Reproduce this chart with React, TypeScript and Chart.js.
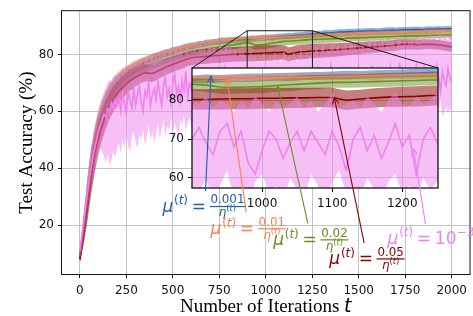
import React, { useEffect, useRef } from "react";
import { Chart, registerables } from "chart.js";

Chart.register(...registerables);

// ---------------- data ----------------
const iterations = [0,20,40,60,80,100,120,140,160,180,200,220,240,260,280,300,320,340,360,380,400,420,440,460,480,500,520,540,560,580,600,620,640,660,680,700,720,740,760,780,800,820,840,860,880,900,920,940,960,980,1000,1020,1040,1060,1080,1100,1120,1140,1160,1180,1200,1220,1240,1260,1280,1300,1320,1340,1360,1380,1400,1420,1440,1460,1480,1500,1520,1540,1560,1580,1600,1620,1640,1660,1680,1700,1720,1740,1760,1780,1800,1820,1840,1860,1880,1900,1920,1940,1960,1980,2000];

const accBlue = [10.0,19.0,30.0,40.5,48.5,54.5,59.0,62.8,65.8,68.0,69.8,71.3,72.6,73.7,74.6,75.5,76.3,77.0,77.6,78.3,78.9,79.3,79.9,80.4,80.7,81.2,81.6,81.9,82.3,82.6,83.0,83.2,83.5,83.6,84.0,84.1,84.4,84.5,84.7,84.8,85.0,85.0,85.2,85.2,85.3,85.3,85.5,85.5,85.7,85.8,85.9,86.0,86.0,86.2,86.3,86.4,86.5,86.5,86.7,86.8,86.9,87.0,87.1,87.2,87.3,87.3,87.5,87.5,87.6,87.7,87.8,87.8,87.9,88.0,88.0,88.1,88.1,88.2,88.2,88.3,88.2,88.3,88.4,88.4,88.5,88.4,88.5,88.6,88.6,88.6,88.7,88.7,88.6,88.8,88.8,88.8,88.9,88.9,88.9,89.0,88.9];
const hwBlue = [1.5,4.0,6.0,6.0,5.5,5.0,4.5,4.0,3.5,3.2,2.9,2.6,2.4,2.2,2.0,1.9,1.8,1.7,1.6,1.5,1.5,1.4,1.4,1.3,1.3,1.3,1.2,1.2,1.3,1.2,1.2,1.1,1.2,1.1,1.2,1.1,1.0,1.1,1.2,1.1,1.0,1.1,1.0,1.1,1.0,1.0,1.1,1.0,1.0,1.1,1.0,1.0,1.1,1.0,1.0,1.0,1.1,1.0,1.0,1.0,1.0,1.1,1.0,1.0,1.0,1.0,1.1,1.0,1.0,1.0,1.0,1.0,1.1,1.0,1.0,1.0,1.0,1.0,1.1,1.0,1.0,1.0,1.0,1.1,1.0,1.0,1.0,1.0,1.0,1.1,1.0,1.0,1.0,1.0,1.1,1.0,1.0,1.0,1.0,1.0,1.0];

const accOrange = [9.0,19.0,31.0,41.5,49.5,55.5,60.3,64.0,67.0,69.0,70.8,72.2,73.4,74.4,75.3,76.1,76.8,77.4,78.0,78.6,79.1,79.6,80.1,80.5,80.9,81.3,81.7,82.0,82.4,82.7,83.0,83.3,83.5,83.8,84.0,84.2,84.4,84.6,84.8,84.9,85.1,85.2,85.3,85.4,85.5,85.6,85.6,85.7,85.7,85.8,85.8,85.9,85.9,86.0,86.0,86.1,86.1,86.2,86.2,86.3,86.3,86.4,86.4,86.5,86.6,86.6,86.7,86.8,86.8,86.9,87.0,87.0,87.1,87.1,87.2,87.2,87.3,87.3,87.4,87.4,87.5,87.5,87.5,87.6,87.6,87.6,87.7,87.7,87.7,87.8,87.8,87.8,87.9,87.9,87.9,88.0,88.0,88.0,88.1,88.1,88.0];
const hwOrange = [1.5,4.0,5.5,5.5,5.0,4.5,4.0,3.6,3.2,2.9,2.6,2.4,2.2,2.0,1.9,1.8,1.7,1.6,1.5,1.4,1.3,1.3,1.2,1.2,1.1,1.1,1.1,1.0,1.0,1.0,0.9,0.9,0.8,0.9,0.8,0.8,0.9,0.8,0.8,0.8,0.8,0.9,0.8,0.8,0.8,0.8,0.9,0.8,0.8,0.8,0.8,0.8,0.9,0.8,0.8,0.8,0.8,0.8,0.9,0.8,0.8,0.8,0.8,0.9,0.8,0.8,0.8,0.8,0.8,0.9,0.8,0.8,0.8,0.8,0.9,0.8,0.8,0.8,0.8,0.8,0.8,0.9,0.8,0.8,0.8,0.8,0.8,0.9,0.8,0.8,0.8,0.8,0.8,0.9,0.8,0.8,0.8,0.8,0.8,0.9,0.8];

const accGreen = [8.0,18.0,29.0,39.5,47.5,53.5,58.0,61.8,64.6,66.8,68.5,69.9,71.1,72.1,73.0,73.8,74.5,75.2,75.8,76.4,76.9,77.4,77.9,78.3,78.7,79.1,79.5,79.9,80.2,80.5,80.8,81.1,81.4,81.6,81.9,82.1,82.3,82.5,82.7,82.9,83.1,83.3,83.5,83.7,83.9,84.1,83.9,83.4,83.3,83.4,83.5,83.8,84.0,84.2,84.4,84.6,84.6,84.7,84.8,84.9,85.0,85.1,85.2,85.2,85.3,85.3,85.4,85.4,85.5,85.5,85.6,85.6,85.7,85.7,85.8,85.8,85.9,85.9,86.0,86.0,86.1,86.1,86.2,86.2,86.3,86.3,86.4,86.4,86.4,86.5,86.5,86.5,86.6,86.6,86.6,86.7,86.7,86.7,86.8,86.8,86.7];
const hwGreen = [1.5,4.0,6.0,6.5,6.0,5.5,5.0,4.5,4.0,3.6,3.2,2.9,2.7,2.5,2.3,2.2,2.1,2.0,1.9,1.8,1.8,1.7,1.7,1.6,1.6,1.6,1.5,1.5,1.5,1.5,1.5,1.5,1.4,1.5,1.5,1.4,1.5,1.5,1.5,1.4,1.5,1.5,1.6,1.5,1.6,1.6,1.7,1.7,1.6,1.6,1.7,1.6,1.6,1.5,1.5,1.4,1.4,1.4,1.4,1.4,1.4,1.4,1.3,1.4,1.3,1.3,1.3,1.3,1.3,1.3,1.3,1.2,1.3,1.2,1.2,1.2,1.2,1.2,1.2,1.2,1.2,1.2,1.1,1.2,1.1,1.1,1.1,1.1,1.1,1.1,1.1,1.1,1.0,1.1,1.0,1.0,1.0,1.0,1.0,1.0,1.0];

const accRed = [8.0,17.0,27.0,37.0,45.0,51.0,55.5,59.0,62.0,64.3,66.2,67.8,69.0,70.3,71.2,72.0,72.7,73.3,73.6,73.3,73.5,74.2,74.8,75.5,76.0,76.5,77.0,77.5,77.9,78.4,78.8,79.0,79.1,79.2,79.3,79.4,79.5,79.6,79.7,79.8,79.9,80.0,80.0,80.1,80.1,80.2,80.2,80.3,80.4,80.4,80.5,80.5,80.6,80.6,80.7,80.7,80.0,80.3,80.6,80.8,80.9,81.0,81.2,81.2,81.3,81.3,81.4,81.5,81.5,81.6,81.7,81.8,81.9,82.0,82.1,82.2,82.3,82.4,82.5,82.6,82.7,82.8,82.9,83.0,83.1,83.3,83.4,83.5,83.5,83.5,83.5,83.4,83.5,83.6,83.5,83.5,83.4,83.3,83.0,82.8,82.6];
const hwRed = [1.5,4.0,6.0,6.5,6.5,6.0,5.5,5.0,4.8,4.5,4.2,4.0,3.8,3.6,3.5,3.3,3.2,3.1,3.0,3.0,2.9,2.9,2.8,2.8,2.8,2.7,2.7,2.7,2.7,2.6,2.6,2.6,2.6,2.6,2.6,2.6,2.5,2.6,2.6,2.6,2.6,2.6,2.6,2.6,2.6,2.6,2.6,2.7,2.7,2.7,2.7,2.7,2.6,2.6,2.5,2.5,2.5,2.4,2.5,2.5,2.6,2.6,2.6,2.5,2.5,2.5,2.4,2.4,2.4,2.3,2.3,2.3,2.2,2.2,2.2,2.2,2.1,2.1,2.1,2.0,2.0,2.0,2.0,1.9,1.9,1.9,1.9,1.8,1.8,1.8,1.8,1.8,1.8,1.7,1.7,1.7,1.7,1.7,1.7,1.7,1.7];

const pinkIterations = [0,10,20,30,40,50,60,70,80,90,100,110,120,130,140,150,160,170,180,190,200,210,220,230,240,250,260,270,280,290,300,310,320,330,340,350,360,370,380,390,400,410,420,430,440,450,460,470,480,490,500,510,520,530,540,550,560,570,580,590,600,610,620,630,640,650,660,670,680,690,700,710,720,730,740,750,760,770,780,790,800,810,820,830,840,850,860,870,880,890,900,910,920,930,940,950,960,970,980,990,1000,1010,1020,1030,1040,1050,1060,1070,1080,1090,1100,1110,1120,1130,1140,1150,1160,1170,1180,1190,1200,1210,1220,1230,1240,1250,1260,1270,1280,1290,1300,1310,1320,1330,1340,1350,1360,1370,1380,1390,1400,1410,1420,1430,1440,1450,1460,1470,1480,1490,1500,1510,1520,1530,1540,1550,1560,1570,1580,1590,1600,1610,1620,1630,1640,1650,1660,1670,1680,1690,1700,1710,1720,1730,1740,1750,1760,1770,1780,1790,1800,1810,1820,1830,1840,1850,1860,1870,1880,1890,1900,1910,1920,1930,1940,1950,1960,1970,1980,1990,2000];
const accPink = [11,16,21,26,31,36,40,44,47,50,53,55,57,59,58,61,60,63,61,64,62,
65,60,66,63,59,67,64,61,68,62,66,69,63,60,67,65,70,62,66,68,
64,71,66,62,69,72,65,68,63,70,73,66,69,64,71,67,74,65,70,68,
72,66,69,75,67,63,71,68,74,66,70,73,65,69,72,64,70,75,68,66,
71,74,67,70,65,72,69,73,66,70,
73,69,66,72,74,68,72,64,61,67,72,70,65,69,72,67,72,69,66,72,68,62,70,73,67,71,65,69,74,68,71,61,70,73,69,
66,72,75,68,64,70,73,67,71,76,69,65,72,70,74,66,71,68,63,70,74,69,72,66,75,70,67,73,71,65,70,76,68,72,69,64,71,74,67,72,70,75,66,71,73,68,77,70,65,72,74,69,71,67,73,76,70,66,72,75,68,71,74,69,73,70,76,72,67,74,71,69,75,72,70];
const pinkLow = [8,11,16,20,25,30,34,38,41,43,45,47,46,44,42,45,41,43,46,44,47,
49,45,50,47,52,48,46,51,53,49,47,52,50,54,48,51,55,50,53,49,
52,56,50,54,57,51,55,53,58,52,56,54,50,57,55,59,53,56,58,54,
57,53,59,55,58,52,56,60,54,57,59,55,58,53,57,60,56,54,59,57,
55,58,60,56,54,59,57,61,55,58,
56,60,54,58,62,55,57,53,59,61,56,58,54,60,57,55,61,58,53,59,62,56,58,55,60,57,54,59,61,56,58,55,60,57,59,
56,60,58,55,61,57,59,54,58,62,57,55,60,58,56,61,59,55,58,62,57,60,56,59,63,58,55,61,57,60,58,56,62,59,57,61,55,59,62,58,60,57,63,59,56,61,58,60,62,57,59,63,58,56,61,60,57,62,59,58,61,63,58,60,57,62,59,61,64,58,60,62,59,61,60];
const pinkHigh = [13,18,24,30,36,42,47,51,55,58,61,63,65,67,68,70,71,70,72,73,72,
74,72,75,73,76,74,75,77,75,78,76,77,79,76,78,80,77,79,81,78,
80,78,81,79,82,80,78,81,83,79,81,82,80,83,81,79,82,84,80,82,
81,83,80,82,84,81,83,80,82,84,81,83,82,80,83,84,81,82,84,81,
83,80,82,81,79,82,80,81,79,80,
79,81,78,80,79,77,80,78,81,79,77,80,78,79,81,78,80,77,79,82,78,79,80,78,81,79,77,80,82,79,78,81,79,80,82,
80,83,81,79,82,84,80,82,81,83,85,81,82,84,80,83,82,84,81,83,85,82,84,81,83,82,85,83,81,84,86,82,83,85,82,84,83,86,82,84,85,83,86,84,82,85,87,83,84,86,83,85,84,87,83,86,85,84,87,85,86,84,88,85,86,87,84,86,88,85,87,86,85,87,86];

const xTicksMain = [0, 250, 500, 750, 1000, 1250, 1500, 1750, 2000];
const yTicksMain = [20, 40, 60, 80];
const xTicksInset = [1000, 1100, 1200];
const yTicksInset = [60, 70, 80];
const labelValues = ["0.001", "0.01", "0.02", "0.05", "10^-3"];
// arrow heads, in inset data coordinates (iteration, accuracy)
const arrowHeadT = [927, 950, 1022, 1103, 1216];
const arrowHeadV = [86.2, 85.6, 83.7, 80.7, 67.5];
// label anchors and arrow tails, in main data coordinates
const labelT = [444, 703, 1040, 1342, 1655];
const labelV = [24.8, 17.0, 13.1, 6.4, 13.6];
const tailT = [676, 895, 1226, 1529, 1859];
const tailV = [32.0, 24.6, 20.7, 13.8, 20.5];

// ---------------- styles / layout ----------------
const COL = {
  blue: "#1f5fad",
  orange: "#ff7f50",
  green: "#6b8e23",
  red: "#8b0000",
  pink: "#ee82ee",
};
const BAND = {
  blue: "rgba(31,95,173,0.5)",
  orange: "rgba(255,127,80,0.5)",
  green: "rgba(107,142,35,0.5)",
  red: "rgba(139,0,0,0.5)",
  pink: "rgba(238,130,238,0.5)",
};
const labelColors = [COL.blue, COL.orange, COL.green, COL.red, COL.pink];
const MAIN_RANGE = { xMin: -96, xMax: 2096, yMin: 2.9, yMax: 95.16 };
const INSET_RANGE = { xMin: 900, xMax: 1251, yMin: 57.4, yMax: 88.3 };
const INSET_BOX = { left: 192, top: 68, right: 438, bottom: 188 };
const W = 473, H = 316;
const GRID = "rgba(176,176,176,0.75)";
const TICK_FONT = { family: "DejaVu Sans", size: 12 };

function buildDatasets() {
  const defs = [
    { x: pinkIterations, y: accPink, bx: pinkIterations, lo: pinkLow, hi: pinkHigh, c: COL.pink, b: BAND.pink },
    { x: iterations, y: accRed, bx: iterations, lo: accRed.map((v, i) => v - hwRed[i]), hi: accRed.map((v, i) => v + hwRed[i]), c: COL.red, b: BAND.red },
    { x: iterations, y: accGreen, bx: iterations, lo: accGreen.map((v, i) => v - hwGreen[i]), hi: accGreen.map((v, i) => v + hwGreen[i]), c: COL.green, b: BAND.green },
    { x: iterations, y: accOrange, bx: iterations, lo: accOrange.map((v, i) => v - hwOrange[i]), hi: accOrange.map((v, i) => v + hwOrange[i]), c: COL.orange, b: BAND.orange },
    { x: iterations, y: accBlue, bx: iterations, lo: accBlue.map((v, i) => v - hwBlue[i]), hi: accBlue.map((v, i) => v + hwBlue[i]), c: COL.blue, b: BAND.blue },
  ];
  const ds: any[] = [];
  defs.forEach((d) => {
    const base = ds.length;
    ds.push({
      data: d.x.map((x, i) => ({ x, y: d.y[i] })),
      borderColor: d.c, borderWidth: 1.6, pointRadius: 0, fill: false, tension: 0,
    });
    ds.push({
      data: d.bx.map((x, i) => ({ x, y: d.hi[i] })),
      borderColor: "rgba(0,0,0,0)", borderWidth: 0, pointRadius: 0, backgroundColor: d.b, fill: base + 2, tension: 0,
    });
    ds.push({
      data: d.bx.map((x, i) => ({ x, y: d.lo[i] })),
      borderColor: "rgba(0,0,0,0)", borderWidth: 0, pointRadius: 0, fill: false, tension: 0,
    });
  });
  return ds;
}

function drawMuLabel(ctx: CanvasRenderingContext2D, x: number, y: number, color: string, value: string) {
  const F = 17, S = F * 0.7, SS = S * 0.7;
  const up = (s: number) => `${s}px "DejaVu Sans"`;
  const it = (s: number) => `italic ${s}px "DejaVu Sans"`;
  const put = (t: string, font: string, px: number, py: number) => {
    ctx.font = font; ctx.fillText(t, px, py); return ctx.measureText(t).width;
  };
  ctx.save();
  ctx.fillStyle = color;
  ctx.textAlign = "left";
  ctx.textBaseline = "alphabetic";
  let cx = x;
  cx += put("\u03bc", it(F), cx, y) + 0.8;
  const sy = y - 0.42 * F;
  cx += put("(", up(S), cx, sy);
  cx += put("t", it(S), cx, sy);
  cx += put(")", up(S), cx, sy);
  cx += 0.22 * F;
  cx += put("=", up(F), cx, y);
  cx += 0.22 * F;
  if (value.indexOf("^") < 0) {
    ctx.font = up(S); const nw = ctx.measureText(value).width;
    ctx.font = it(S); const ew = ctx.measureText("\u03b7").width;
    ctx.font = up(SS); const p1 = ctx.measureText("(").width; const p2 = ctx.measureText(")").width;
    ctx.font = it(SS); const tw = ctx.measureText("t").width;
    const dw = ew + p1 + tw + p2;
    const bw = Math.max(nw, dw) + 1.5;
    const ay = y - 0.3 * F;
    ctx.fillRect(cx, ay - 0.6, bw, 1.2);
    put(value, up(S), cx + (bw - nw) / 2, ay - 3.2);
    let dx = cx + (bw - dw) / 2;
    const dy = ay + 3.4 + 0.55 * S;
    dx += put("\u03b7", it(S), dx, dy);
    const dsy = dy - 0.42 * S;
    dx += put("(", up(SS), dx, dsy);
    dx += put("t", it(SS), dx, dsy);
    put(")", up(SS), dx, dsy);
  } else {
    const [b, e] = value.split("^");
    cx += put(b, up(F), cx, y);
    put(e.replace("-", "\u2212"), up(S), cx + 0.5, y - 0.45 * F);
  }
  ctx.restore();
}

function drawArrow(ctx: CanvasRenderingContext2D, x0: number, y0: number, x1: number, y1: number, color: string) {
  ctx.save();
  ctx.strokeStyle = color;
  ctx.lineWidth = 1.1;
  ctx.beginPath(); ctx.moveTo(x0, y0); ctx.lineTo(x1, y1); ctx.stroke();
  const a = Math.atan2(y1 - y0, x1 - x0);
  const L = 6.5, Wd = 3.2;
  const bx = x1 - L * Math.cos(a), by = y1 - L * Math.sin(a);
  const px = -Math.sin(a), py = Math.cos(a);
  ctx.beginPath();
  ctx.moveTo(bx + Wd * px, by + Wd * py);
  ctx.lineTo(x1, y1);
  ctx.lineTo(bx - Wd * px, by - Wd * py);
  ctx.stroke();
  ctx.restore();
}

function axisCfg(min: number, max: number, ticks: number[], fit: (s: any) => void, pad: number) {
  return {
    type: "linear" as const,
    min, max,
    afterBuildTicks: (s: any) => { s.ticks = ticks.map((v) => ({ value: v })); },
    afterFit: fit,
    ticks: { font: TICK_FONT, color: "#111", padding: pad, autoSkip: false, maxRotation: 0, callback: (v: any) => String(v) },
    grid: { color: GRID, lineWidth: 1, tickLength: 4, tickColor: "#111", tickWidth: 1 },
    border: { display: false },
  };
}

export default function App() {
  const mainRef = useRef<HTMLCanvasElement>(null);
  const insetRef = useRef<HTMLCanvasElement>(null);

  useEffect(() => {
    if (!mainRef.current || !insetRef.current) return;
    let mainChart: Chart | null = null;

    const mainDecor = {
      id: "mainDecor",
      afterDraw(chart: any) {
        const { ctx, chartArea: a, scales } = chart;
        const xs = scales.x, ys = scales.y;
        ctx.save();
        ctx.strokeStyle = "#1a1a1a";
        ctx.lineWidth = 1;
        const x0 = xs.getPixelForValue(INSET_RANGE.xMin), x1 = xs.getPixelForValue(INSET_RANGE.xMax);
        const yT = ys.getPixelForValue(INSET_RANGE.yMax), yB = ys.getPixelForValue(INSET_RANGE.yMin);
        ctx.strokeRect(x0, yT, x1 - x0, yB - yT);
        ctx.beginPath();
        ctx.moveTo(x0, yT); ctx.lineTo(INSET_BOX.left, INSET_BOX.top);
        ctx.moveTo(x1, yT); ctx.lineTo(INSET_BOX.right, INSET_BOX.top);
        ctx.stroke();
        ctx.strokeStyle = "#111";
        ctx.strokeRect(a.left - 0.5, a.top - 0.5, a.right - a.left + 1, a.bottom - a.top + 1);
        ctx.fillStyle = "#000";
        ctx.textBaseline = "alphabetic";
        const serif = '19px "Liberation Serif"';
        const ital = 'italic 19px "DejaVu Sans"';
        const t1 = "Number of Iterations ";
        ctx.font = serif; const w1 = ctx.measureText(t1).width;
        ctx.font = ital; const w2 = ctx.measureText("t").width;
        const cx = (a.left + a.right) / 2;
        const sx = cx - (w1 + w2) / 2;
        ctx.font = serif; ctx.textAlign = "left"; ctx.fillText(t1, sx, 312);
        ctx.font = ital; ctx.fillText("t", sx + w1, 312);
        ctx.translate(31.5, (a.top + a.bottom) / 2);
        ctx.rotate(-Math.PI / 2);
        ctx.font = serif; ctx.textAlign = "center";
        ctx.fillText("Test Accuracy (%)", 0, 0);
        ctx.restore();
      },
    };

    mainChart = new Chart(mainRef.current, {
      type: "line",
      data: { datasets: buildDatasets() },
      options: {
        animation: false,
        responsive: false,
        devicePixelRatio: 1,
        layout: { padding: { left: 0, right: 1, top: 8, bottom: 0 } },
        plugins: { legend: { display: false }, tooltip: { enabled: false } },
        scales: {
          x: axisCfg(MAIN_RANGE.xMin, MAIN_RANGE.xMax, xTicksMain, (s: any) => { s.height = H - 274; }, 6),
          y: axisCfg(MAIN_RANGE.yMin, MAIN_RANGE.yMax, yTicksMain, (s: any) => { s.width = 62; }, 4),
        },
      } as any,
      plugins: [mainDecor],
    });

    const insetDecor = {
      id: "insetDecor",
      beforeDraw(chart: any) {
        const { ctx, chartArea: a } = chart;
        ctx.save();
        ctx.fillStyle = "#fff";
        ctx.fillRect(a.left, a.top, a.right - a.left, a.bottom - a.top);
        ctx.restore();
      },
      afterDraw(chart: any) {
        const { ctx, chartArea: a, scales } = chart;
        ctx.save();
        ctx.strokeStyle = "#111";
        ctx.lineWidth = 1.3;
        ctx.strokeRect(a.left, a.top, a.right - a.left, a.bottom - a.top);
        ctx.restore();
        if (!mainChart) return;
        const mx = (mainChart as any).scales.x, my = (mainChart as any).scales.y;
        for (let i = 0; i < labelValues.length; i++) {
          const hx = scales.x.getPixelForValue(arrowHeadT[i]);
          const hy = scales.y.getPixelForValue(arrowHeadV[i]);
          const tx = mx.getPixelForValue(tailT[i]);
          const ty = my.getPixelForValue(tailV[i]);
          drawArrow(ctx, tx, ty, hx, hy, labelColors[i]);
        }
        for (let i = 0; i < labelValues.length; i++) {
          drawMuLabel(ctx, mx.getPixelForValue(labelT[i]), my.getPixelForValue(labelV[i]), labelColors[i], labelValues[i]);
        }
      },
    };

    const insetChart = new Chart(insetRef.current, {
      type: "line",
      data: { datasets: buildDatasets() },
      options: {
        animation: false,
        responsive: false,
        devicePixelRatio: 1,
        layout: { padding: { left: 0, right: W - INSET_BOX.right, top: INSET_BOX.top, bottom: 0 } },
        plugins: { legend: { display: false }, tooltip: { enabled: false } },
        scales: {
          x: axisCfg(INSET_RANGE.xMin, INSET_RANGE.xMax, xTicksInset, (s: any) => { s.height = H - INSET_BOX.bottom; }, 5),
          y: axisCfg(INSET_RANGE.yMin, INSET_RANGE.yMax, yTicksInset, (s: any) => { s.width = INSET_BOX.left; }, 4),
        },
      } as any,
      plugins: [insetDecor],
    });

    return () => {
      insetChart.destroy();
      if (mainChart) mainChart.destroy();
      mainChart = null;
    };
  }, []);

  return (
    <div style={{ position: "fixed", left: 0, top: 0, width: W, height: H, background: "#fff" }}>
      <canvas ref={mainRef} width={W} height={H} style={{ position: "absolute", left: 0, top: 0, width: W, height: H }} />
      <canvas ref={insetRef} width={W} height={H} style={{ position: "absolute", left: 0, top: 0, width: W, height: H, pointerEvents: "none" }} />
    </div>
  );
}
